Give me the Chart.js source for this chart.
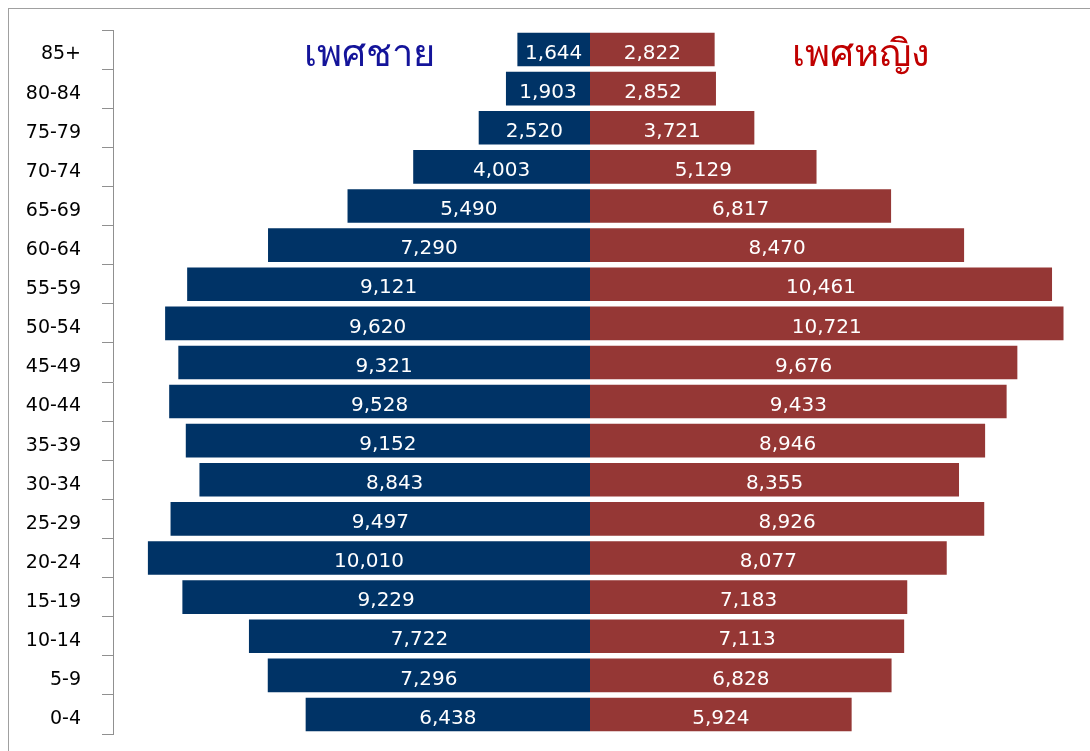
<!DOCTYPE html>
<html>
<head>
<meta charset="utf-8">
<script src="https://cdn.jsdelivr.net/npm/chart.js@4.4.1/dist/chart.umd.min.js"></script>
<style>
  html, body { margin: 0; padding: 0; background: #fff; overflow: hidden; }
  #wrap { position: relative; width: 1090px; height: 751px; overflow: hidden; }
  #frame { position: absolute; left: 8px; top: 8px; width: 1100px; height: 760px;
           border-left: 1px solid #a0a0a0; border-top: 1px solid #a0a0a0; box-sizing: border-box; }
  canvas { position: absolute; left: 0; top: 0; }
</style>
</head>
<body>
<div id="wrap">
  <div id="frame"></div>
  <canvas id="c" width="1090" height="751"></canvas>
</div>
<script>
const ageGroups = ['85+','80-84','75-79','70-74','65-69','60-64','55-59','50-54','45-49','40-44','35-39','30-34','25-29','20-24','15-19','10-14','5-9','0-4'];
const male   = [1644,1903,2520,4003,5490,7290,9121,9620,9321,9528,9152,8843,9497,10010,9229,7722,7296,6438];
const female = [2822,2852,3721,5129,6817,8470,10461,10721,9676,9433,8946,8355,8926,8077,7183,7113,6828,5924];
const maleTitle = 'เพศชาย';
const femaleTitle = 'เพศหญิง';

const fmt = v => Math.abs(v).toLocaleString('en-US');

const valueLabels = {
  id: 'valueLabels',
  afterDatasetsDraw(chart) {
    const ctx = chart.ctx;
    ctx.save();
    ctx.fillStyle = '#ffffff';
    ctx.font = '20px "DejaVu Sans"';
    ctx.textAlign = 'center';
    ctx.textBaseline = 'middle';
    chart.data.datasets.forEach((ds, di) => {
      chart.getDatasetMeta(di).data.forEach((bar, i) => {
        const cx = (bar.x + bar.base) / 2;
        ctx.fillText(fmt(ds.data[i]), cx, bar.y + 4);
      });
    });
    ctx.restore();
  }
};

const sideTitles = {
  id: 'sideTitles',
  afterDraw(chart) {
    const ctx = chart.ctx;
    const xs = chart.scales.x;
    const y = chart.chartArea.top + 25;
    ctx.save();
    ctx.textAlign = 'center';
    ctx.textBaseline = 'middle';
    ctx.font = '38px "Noto Sans", "DejaVu Sans", sans-serif';
    ctx.fillStyle = '#14149a';
    ctx.fillText(maleTitle, xs.getPixelForValue(-5000), y);
    ctx.fillStyle = '#c00000';
    ctx.fillText(femaleTitle, xs.getPixelForValue(6130), y);
    ctx.restore();
  }
};

new Chart(document.getElementById('c'), {
  type: 'bar',
  data: {
    labels: ageGroups,
    datasets: [
      { label: 'ชาย', data: male.map(v => -v), backgroundColor: '#003366', barPercentage: 0.86, categoryPercentage: 1 },
      { label: 'หญิง', data: female, backgroundColor: '#953735', barPercentage: 0.86, categoryPercentage: 1 }
    ]
  },
  options: {
    indexAxis: 'y',
    responsive: false,
    animation: false,
    layout: { padding: { top: 30, bottom: 17, right: 23, left: 0 } },
    plugins: { legend: { display: false }, tooltip: { enabled: false }, title: { display: false } },
    scales: {
      x: { stacked: true, min: -10800, max: 10800, display: false },
      y: {
        stacked: true,
        afterFit(s) { s.width = 113; s.paddingTop = 0; s.paddingBottom = 0; },
        grid: { offset: true, drawOnChartArea: false, drawTicks: true, tickLength: 11, color: '#909090', lineWidth: 1 },
        border: { display: true, color: '#909090', width: 1 },
        ticks: { color: '#000000', font: { family: 'DejaVu Sans', size: 19 }, padding: 21, crossAlign: 'near', labelOffset: 5 }
      }
    }
  },
  plugins: [valueLabels, sideTitles]
});
</script>
</body>
</html>
